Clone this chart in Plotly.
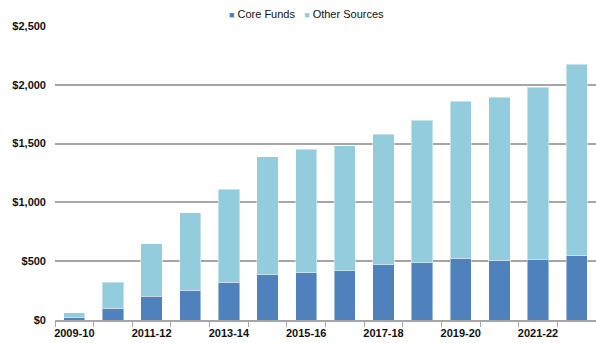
import plotly.graph_objects as go

# Funding by fiscal year ($ millions)
years = ["2009-10", "2010-11", "2011-12", "2012-13", "2013-14", "2014-15", "2015-16",
         "2016-17", "2017-18", "2018-19", "2019-20", "2020-21", "2021-22", "2022-23"]
core_funds = [20, 100, 200, 255, 320, 385, 400, 420, 470, 485, 525, 505, 515, 545]
totals = [62, 320, 650, 910, 1110, 1390, 1450, 1480, 1580, 1700, 1860, 1895, 1980, 2175]
other_sources = [t - c for t, c in zip(totals, core_funds)]

series_names = ["Core Funds", "Other Sources"]
series_colors = ["#4f81bd", "#93cddd"]

y_ticks = [0, 500, 1000, 1500, 2000, 2500]
y_labels = ["$0", "$500", "$1,000", "$1,500", "$2,000", "$2,500"]
x_labels = [y if i % 2 == 0 else "" for i, y in enumerate(years)]

FONT = "Arial, Liberation Sans, sans-serif"
GRID = "#a6a6a6"
W, H = 596, 343
L, R, T, B = 55, 0, 26, 23

fig = go.Figure()
for name, vals, col in zip(series_names, [core_funds, other_sources], series_colors):
    fig.add_trace(go.Bar(
        x=years, y=vals, name=name,
        marker=dict(color=col, line=dict(color="rgba(255,255,255,0.45)", width=1)),
    ))

# compact legend line: small colour square followed by the series name
legend_text = "   ".join(
    f"<span style='color:{c}; font-size:9px'>■</span> {n}"
    for n, c in zip(series_names, series_colors)
)
fig.add_annotation(
    text=legend_text, showarrow=False,
    xref="paper", yref="paper",
    x=(306.5 - L) / (W - L - R), xanchor="center",
    y=1 + (T - 14) / (H - T - B), yanchor="middle",
    font=dict(family=FONT, size=11, color="#111111"),
)

fig.update_layout(
    barmode="stack",
    bargap=0.45,
    width=W, height=H,
    margin=dict(l=L, r=R, t=T, b=B),
    plot_bgcolor="white", paper_bgcolor="white",
    font=dict(family=FONT, size=11, color="#111111"),
    showlegend=False,
)

fig.update_xaxes(
    type="category", automargin=False,
    tickmode="array", tickvals=years, ticktext=x_labels, tickangle=0,
    tickson="boundaries", ticks="outside", ticklen=5, tickcolor=GRID, tickwidth=1,
    showline=True, linecolor=GRID, linewidth=1.5,
    showgrid=False, ticklabelstandoff=2,
    tickfont=dict(family=FONT, size=11, color="#111111", weight="bold"),
)
fig.update_yaxes(
    range=[0, 2500], automargin=False,
    tickmode="array", tickvals=y_ticks, ticktext=y_labels,
    showgrid=True, gridcolor=GRID, gridwidth=1.5,
    zeroline=False, showline=False, ticks="",
    ticklabelstandoff=8,
    tickfont=dict(family=FONT, size=11, color="#111111", weight="bold"),
)

fig.write_html("out.html")
